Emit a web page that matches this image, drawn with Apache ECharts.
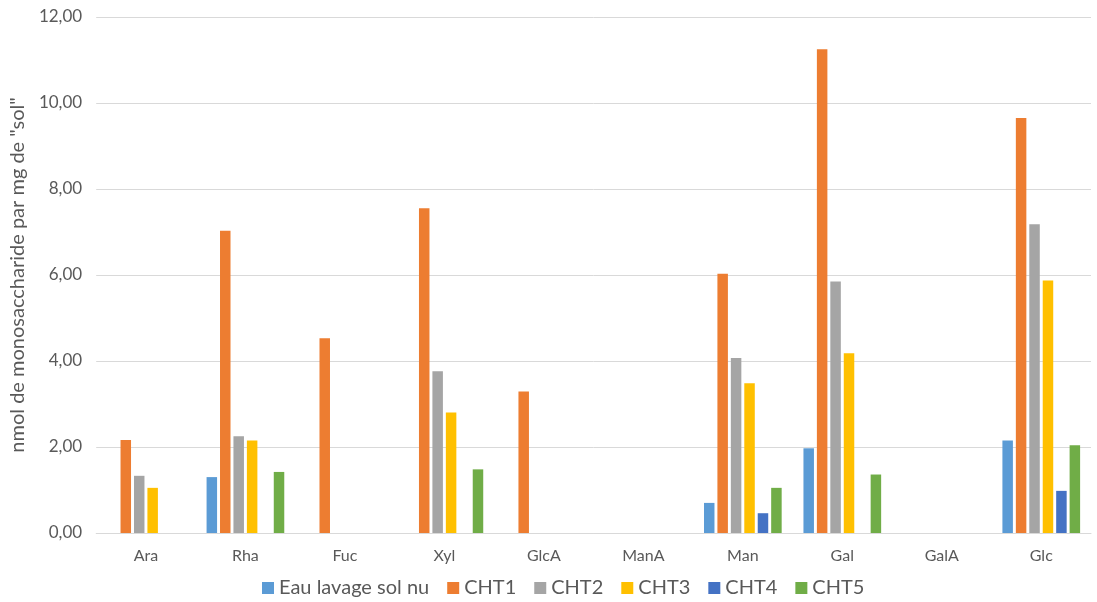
<!DOCTYPE html>
<html><head><meta charset="utf-8">
<script src="https://cdn.jsdelivr.net/npm/echarts@6/dist/echarts.min.js"></script>
<style>html,body{margin:0;padding:0;background:#fff}#c{width:1097px;height:602px}</style>
</head><body><div id="c"></div>
<script>
const categories = ['Ara','Rha','Fuc','Xyl','GlcA','ManA','Man','Gal','GalA','Glc'];
const seriesNames = ['Eau lavage sol nu','CHT1','CHT2','CHT3','CHT4','CHT5'];
const eauLavage = [0, 1.30, 0, 0, 0, 0, 0.70, 1.97, 0, 2.15];
const cht1 = [2.16, 7.03, 4.53, 7.55, 3.29, 0, 6.03, 11.25, 0, 9.65];
const cht2 = [1.33, 2.25, 0, 3.76, 0, 0, 4.07, 5.85, 0, 7.18];
const cht3 = [1.05, 2.15, 0, 2.80, 0, 0, 3.48, 4.18, 0, 5.87];
const cht4 = [0, 0, 0, 0, 0, 0, 0.46, 0, 0, 0.98];
const cht5 = [0, 1.42, 0, 1.48, 0, 0, 1.05, 1.36, 0, 2.04];
const colors = ['#5B9BD5','#ED7D31','#A5A5A5','#FFC000','#4472C4','#70AD47'];
const allData = [eauLavage, cht1, cht2, cht3, cht4, cht5];
const font = 'Lato, "Open Sans", sans-serif';
const chart = echarts.init(document.getElementById('c'));
chart.setOption({
  animation: false,
  color: colors,
  grid: {left: 91, right: 6, top: 17, bottom: 69},
  legend: {
    bottom: -1, left: 257, itemWidth: 12, itemHeight: 12, itemGap: 18,
    icon: 'rect',
    textStyle: {fontFamily: font, fontSize: 20, color: '#595959'},
    data: seriesNames
  },
  xAxis: {
    type: 'category', data: categories,
    axisLine: {lineStyle: {color: '#D9D9D9'}},
    axisTick: {show: false},
    axisLabel: {fontFamily: font, fontSize: 16, color: '#595959', margin: 15}
  },
  yAxis: {
    type: 'value', min: 0, max: 12, interval: 2,
    name: 'nmol de monosaccharide par mg de "sol"',
    nameLocation: 'middle', nameGap: 62,
    nameTextStyle: {fontFamily: font, fontSize: 20, color: '#595959'},
    axisLine: {show: false}, axisTick: {show: false},
    splitLine: {lineStyle: {color: '#D9D9D9'}},
    axisLabel: {fontFamily: font, fontSize: 17, color: '#595959', margin: 14,
      formatter: v => v.toFixed(2).replace('.', ',')}
  },
  series: seriesNames.map((n, i) => ({
    name: n, type: 'bar', data: allData[i],
    barWidth: 10.5, barGap: '28%'
  }))
});
</script></body></html>
